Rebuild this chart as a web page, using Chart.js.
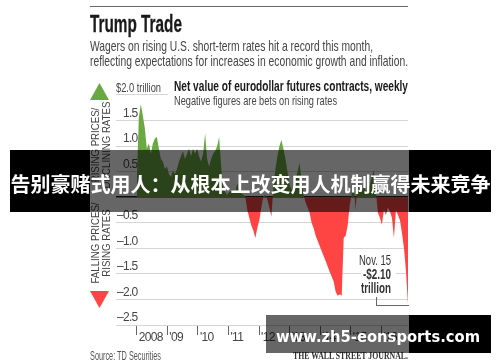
<!DOCTYPE html>
<html>
<head>
<meta charset="utf-8">
<script src="https://cdn.jsdelivr.net/npm/chart.js@4"></script>
<style>
  html, body { margin: 0; padding: 0; background: #fff; }
  #wrap { position: relative; width: 500px; height: 362px; overflow: hidden; font-family: 'Liberation Sans', sans-serif; color: #333; }
  #wrap div { position: absolute; white-space: nowrap; }
  canvas { position: absolute; left: 0; top: 0; }
  [data-w] { transform-origin: left center; }
  .rule { left: 90px; top: 6px; width: 318px; height: 1px; background: #666; }
  .title { left: 90px; top: 10px; font-size: 24px; font-weight: bold; color: #1a1a1a; -webkit-text-stroke: 0.3px #1a1a1a; }
  .sub { left: 90px; font-size: 15px; color: #444; }
  .head { left: 174px; top: 78px; font-size: 14.5px; font-weight: bold; color: #1a1a1a; }
  .head2 { left: 174px; top: 93px; font-size: 13px; color: #444; }
  .unit { left: 116px; top: 80px; font-size: 13px; color: #444; }
  .unitline { left: 116px; top: 94px; width: 52px; height: 1px; background: #d5d5d5; }
  .up { left: 90px; top: 83px; width: 19px; height: 17px; background: #6aa842; clip-path: polygon(50% 0, 100% 100%, 0 100%); }
  .down { left: 90px; top: 291px; width: 19px; height: 17px; background: #ff4444; clip-path: polygon(0 0, 100% 0, 50% 100%); }
  .side { font-size: 11.5px; line-height: 11px; text-align: center; color: #444; transform: translate(-50%, -50%) rotate(-90deg) scaleX(0.84); }
  .noteback { left: 361px; top: 265px; width: 35px; height: 16px; background: #fff; }
  .note { font-size: 14px; line-height: 14px; color: #333; }
  .bracket { left: 376px; top: 297px; width: 32px; height: 8px; border-left: 1px solid #666; border-bottom: 1px solid #666; }
  .source { left: 90px; top: 349px; font-size: 12px; color: #555; }
  .wsj { left: 293px; top: 351px; font-family: 'Liberation Serif', serif; font-size: 9.5px; font-weight: bold; color: #333; }
  .black { background: #000; }
  .shade { background: rgba(0,0,0,0.6); }
  .band { left: 10px; top: 150px; width: 481px; height: 62px; line-height: 67px; text-align: center; color: #fff; font-family: 'Noto Sans CJK SC', sans-serif; font-weight: bold; font-size: 20px; }
  .mark { left: 276px; top: 315px; height: 38px; line-height: 43px; color: #fff; font-family: 'DejaVu Sans', sans-serif; font-weight: bold; font-size: 16px; }
</style>
</head>
<body>
<div id="wrap">
  <canvas id="trump_trade" width="500" height="362"></canvas>
  <div class="rule"></div>
  <div class="title" data-w="92">Trump Trade</div>
  <div class="sub" style="top:37px" data-w="283">Wagers on rising U.S. short-term rates hit a record this month,</div>
  <div class="sub" style="top:52px" data-w="318">reflecting expectations for increases in economic growth and inflation.</div>
  <div class="unit" data-w="45">$2.0 trillion</div>
  <div class="unitline"></div>
  <div class="head" data-w="234">Net value of eurodollar futures contracts, weekly</div>
  <div class="head2" data-w="163">Negative figures are bets on rising rates</div>
  <div class="up"></div>
  <div class="down"></div>
  <div class="side" style="left:100.5px;top:145px">RISING PRICES/<br>DECLINING RATES</div>
  <div class="side" style="left:100.5px;top:243px">FALLING PRICES/<br>RISING RATES</div>
  <div class="noteback"></div>
  <div class="note" style="left:359px;top:253px" data-w="32">Nov. 15</div>
  <div class="note" style="left:363px;top:267px;font-weight:bold" data-w="28">-$2.10</div>
  <div class="note" style="left:361px;top:281px;font-weight:bold" data-w="30">trillion</div>
  <div class="bracket"></div>
  <div class="source" data-w="71">Source: TD Securities</div>
  <div class="wsj" data-w="115">THE WALL STREET JOURNAL.</div>
  <div class="black" style="left:10px;top:150px;width:80px;height:62px"></div>
  <div class="black" style="left:409px;top:150px;width:82px;height:62px"></div>
  <div class="shade" style="left:90px;top:150px;width:319px;height:62px"></div>
  <div class="band">告别豪赌式用人：从根本上改变用人机制赢得未来竞争</div>
  <div class="black" style="left:409px;top:315px;width:82px;height:38px"></div>
  <div class="shade" style="left:266px;top:315px;width:143px;height:38px"></div>
  <div class="mark" data-w="204">www.zh5-eonsports.com</div>
</div>
<script>
const tickYears = [2008, 2009, 2010, 2011, 2012, 2013, 2014, 2015, 2016];
const tickValues = [1.5, 1.0, 0.5, -0.5, -1.0, -1.5, -2.0, -2.5];
const firstYear = 2008;
const lastWeek = 2016.87;

const netValue = [
  0.3, 1.55, 1.82, 1.6, 1.35, 0.95, 1.05, 0.85, 1.05, 1.15, 1.18, 0.95, 0.75, 0.7, 0.55,
  0.6, 0.45, 0.4, 0.52, 0.45, 0.55, 0.7, 0.8, 0.9, 0.75, 0.85, 0.95, 0.8, 0.95, 0.85,
  0.95, 0.8, 0.7, 0.85, 1.25, 0.75, 0.6, 0.75, 0.85, 0.9, 1.0, 1.18, 0.6, 0.18, 0.1,
  0.05, 0.1, 0.12, 0.15, 0.1, 0.28, 0.12, 0.08, 0.05, 0.02, -0.25, -0.4, -0.55, -0.65, -0.8,
  -0.6, -0.45, -0.2, 0.02, 0.05, -0.05, -0.2, -0.38, 0.2, 0.55, 0.8, 1.0, 1.12, 0.95, 0.75,
  0.5, 0.25, 0.15, 0.2, 0.35, 0.5, 0.67, 0.35, 0.05, -0.1, -0.2, -0.3, -0.5, -0.6, -0.75,
  -0.85, -0.95, -1.05, -1.15, -1.25, -1.35, -1.46, -1.55, -1.65, -1.85, -1.93, -1.9, -1.93, -0.8, -0.75,
  -0.55, -0.15, 0.08, 0.2, -0.25, 0.5, 0.15, 0.1, 0.2, 0.12, 0.15, 0.25, 0.4, 0.53, 0.1,
  -0.3, -0.4, -0.54, -0.25, -0.35, -0.2, -0.28, -0.4, -0.8, -0.25, -0.35, -0.45, -0.7, -1.0, -1.45, -2.1
];

const yearStep = (lastWeek - firstYear) / (netValue.length - 1);
const points = netValue.map((v, i) => ({ x: firstYear + i * yearStep, y: v }));

// squeeze the page text to the condensed widths of the original face
document.querySelectorAll('[data-w]').forEach((el) => {
  let k = el.dataset.w / el.getBoundingClientRect().width;
  el.style.transform = 'scaleX(' + k + ')';
});

let narrowTicks = {
  id: 'narrowTicks',
  beforeDraw: (chart) => { chart.ctx.letterSpacing = '-0.7px'; }
};

let data = {
  datasets: [
    {
      data: points,
      borderWidth: 0,
      pointRadius: 0,
      tension: 0,
      fill: { target: { value: 0 }, above: '#6aa842', below: '#ff4444' }
    }
  ]
};

let options = {
  responsive: false,
  animation: false,
  layout: { padding: { top: 95, right: 92, left: 0, bottom: 0 } },
  plugins: { legend: { display: false }, tooltip: { enabled: false } },
  scales: {
    x: {
      type: 'linear',
      min: 2007.32,
      max: lastWeek,
      afterBuildTicks: (scale) => { scale.ticks = tickYears.map(y => ({ value: y })); },
      afterFit: (scale) => { scale.height = 37; },
      border: { display: false },
      grid: {
        drawOnChartArea: false,
        color: '#666',
        tickLength: 10
      },
      ticks: {
        align: 'start',
        labelOffset: 2,
        padding: -5,
        maxRotation: 0,
        autoSkip: false,
        color: '#444',
        font: { family: "'Liberation Sans', sans-serif", size: 12 },
        callback: (v) => v === 2008 ? '2008' : "'" + String(v).slice(2)
      }
    },
    y: {
      min: -2.5,
      max: 2.0,
      afterBuildTicks: (scale) => {
        scale.ticks = [2.0, ...tickValues.slice(0, 3), 0, ...tickValues.slice(3)].map(v => ({ value: v }));
      },
      afterFit: (scale) => { scale.width = 116; },
      border: { display: false },
      grid: {
        drawTicks: false,
        tickLength: 0,
        lineWidth: (ctx) => ctx.tick && ctx.tick.value === 0 ? 1.5 : 1,
        color: (ctx) => {
          if (!ctx.tick) return '#d5d5d5';
          if (ctx.tick.value === 2) return 'rgba(0,0,0,0)';
          return ctx.tick.value === 0 ? '#222' : '#d5d5d5';
        }
      },
      ticks: {
        mirror: true,
        padding: 1,
        labelOffset: -7,
        autoSkip: false,
        color: '#444',
        font: { family: "'Liberation Sans', sans-serif", size: 12 },
        // mirrored labels start flush left, a figure space lines the digits up
        callback: (v) => {
          if (!tickValues.includes(v)) return '';
          return v < 0 ? '\u2013' + Math.abs(v).toFixed(1) : '\u2007' + v.toFixed(1);
        }
      }
    }
  }
};

new Chart('trump_trade', { type: 'line', data, options, plugins: [narrowTicks] });
</script>
</body>
</html>
